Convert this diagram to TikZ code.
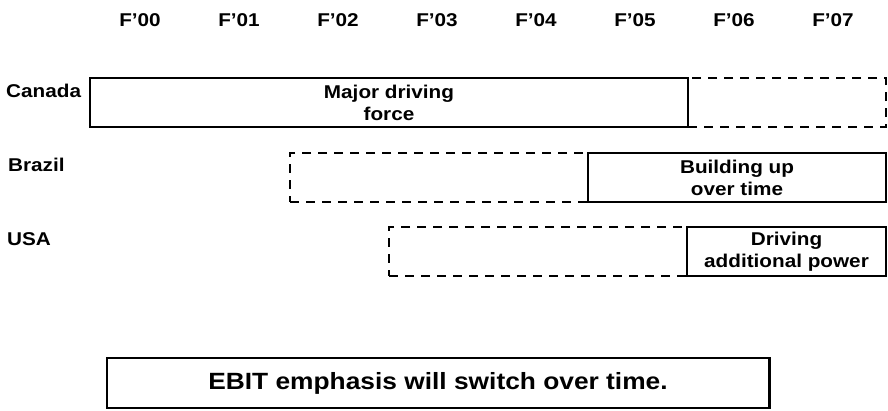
\documentclass[tikz,border=0pt]{standalone}
\usepackage{fontspec}
\setmainfont{Liberation Sans}
\newfontfamily\chartfont{Liberation Sans}[FakeStretch=1.12]
\usetikzlibrary{positioning,calc}

\begin{document}
\begin{tikzpicture}[x=1pt,y=-1pt,
    yearlbl/.style={font=\chartfont\bfseries\fontsize{18.5}{22}\selectfont},
    rowlbl/.style={anchor=west,inner sep=0pt,font=\chartfont\bfseries\fontsize{18.5}{22}\selectfont},
    barbox/.style={draw,line width=1.7pt,fill=white,inner sep=0pt,minimum height=49pt,align=center,font=\chartfont\bfseries\fontsize{18.5}{22}\selectfont},
    plannedbox/.style={draw,line width=1.6pt,dash pattern=on 9pt off 7pt,inner sep=0pt,minimum height=49pt}]
    \useasboundingbox (0,0) rectangle (888,410);
    % fiscal years
    \foreach \yr [count=\i from 0] in {00,01,02,03,04,05,06,07}
      \node[yearlbl] (f\yr) at (140+99*\i,20) {F’\yr};
    % rows
    \node[rowlbl] (canadalbl) at (6,91) {Canada};
    \node[rowlbl] (brazillbl) at (8,165) {Brazil};
    \node[rowlbl] (usalbl) at (7,239) {USA};
    % planned periods first, then the strong periods on top
    \node[plannedbox,minimum width=198pt] (canadalater) at (787,102.5) {};
    \node[plannedbox,minimum width=298pt] (brazilearly) at (439,177.5) {};
    \node[plannedbox,minimum width=298pt] (usaearly) at (538,251.5) {};
    \node[barbox,minimum width=598pt] (canada) at (389,102.5) {Major driving\\force};
    \node[barbox,minimum width=298pt] (brazil) at (737,177.5) {Building up\\over time};
    \node[barbox,minimum width=199pt] (usa) at (786.5,251.5) {Driving\\additional power};
    % note
    \node[draw,line width=1.5pt,inner sep=0pt,minimum width=662pt,minimum height=50pt,
      font=\chartfont\bfseries\fontsize{23.5}{28}\selectfont] (note) at (438,383) {EBIT emphasis will switch over time.};
    \draw[line width=3pt] (note.north east) -- (note.south east);
\end{tikzpicture}
\end{document}
